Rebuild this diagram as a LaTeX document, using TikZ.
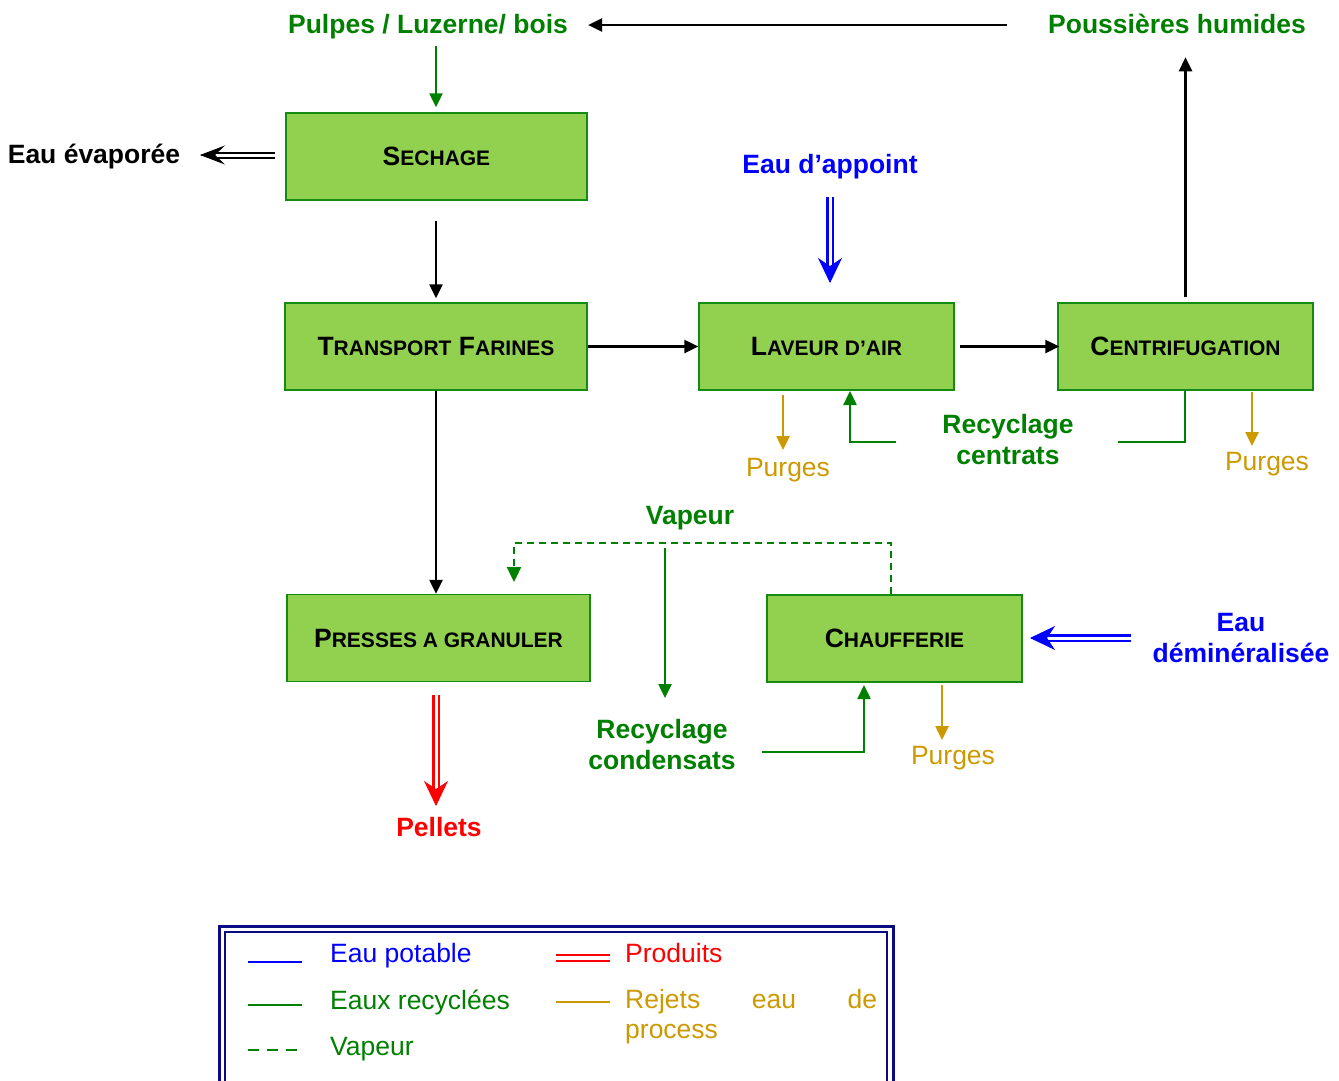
\documentclass[tikz,border=0pt]{standalone}
\usepackage{fontspec}
\setmainfont{Liberation Sans}
\usetikzlibrary{arrows.meta,calc}
\definecolor{gtxt}{RGB}{0,128,0}
\definecolor{boxfill}{RGB}{146,208,80}
\definecolor{boxdraw}{RGB}{20,140,20}
\definecolor{gold}{RGB}{204,153,0}
\definecolor{navy}{RGB}{10,10,130}
\newcommand\smc[1]{{\fontsize{21}{24}\selectfont #1}}
\begin{document}
\begin{tikzpicture}[x=1pt,y=-1pt,
  box/.style={draw=boxdraw, fill=boxfill, line width=1.5pt, minimum height=87pt, inner sep=0pt, font=\fontsize{26.5}{30}\selectfont\bfseries},
  lbl/.style={font=\fontsize{26.5}{31}\selectfont\bfseries, inner sep=0pt, align=center},
  reg/.style={font=\fontsize{26.5}{31}\selectfont, inner sep=0pt},
  arr/.style={line width=2.5pt, -{Triangle[length=14pt,width=13pt]}},
  dshaft/.style={double=white, double distance=3pt, line width=2.3pt},
  bighead/.style={line width=1pt, -{Stealth[length=25pt,width=24pt,inset=8pt]}},
  vap/.style={gtxt, line width=2.3pt, dash pattern=on 7pt off 5pt}
]
\useasboundingbox (0,0) rectangle (1339,1080);
\clip (0,0) rectangle (1339,1080);

% boxes
\node[box, minimum width=301pt] (sech) at (436.5,156.5) {S\smc{ECHAGE}};
\node[box, minimum width=302pt] (trans) at (436,346.5) {T\smc{RANSPORT} F\smc{ARINES}};
\node[box, minimum width=255pt] (lav) at (826.5,346.5) {L\smc{AVEUR D’AIR}};
\node[box, minimum width=255pt] (cen) at (1185.5,346.5) {C\smc{ENTRIFUGATION}};
\node[box, minimum width=303pt] (pres) at (438.5,638) {P\smc{RESSES A GRANULER}};
\node[box, minimum width=255pt] (chauf) at (894.5,638.5) {C\smc{HAUFFERIE}};

% labels
\node[lbl, gtxt] (pulpes) at (428,27) {Pulpes / Luzerne/ bois};
\node[lbl, gtxt] (pouss) at (1177,24) {Poussières humides};
\node[lbl] (evap) at (94,157) {Eau évaporée};
\node[lbl, blue] (appoint) at (830,167) {Eau d’appoint};
\node[lbl, gtxt] (centrats) at (1008,440) {Recyclage\\centrats};
\node[lbl, gtxt] (vapeur) at (690,518) {Vapeur};
\node[lbl, gtxt] (conds) at (662,745) {Recyclage\\condensats};
\node[lbl, blue] (demin) at (1241,638) {Eau\\déminéralisée};
\node[lbl, red] (pellets) at (439,827) {Pellets};
\node[reg, gold] (pur1) at (788,470) {Purges};
\node[reg, gold] (pur2) at (1267,464) {Purges};
\node[reg, gold] (pur3) at (953,758) {Purges};

% black flow
\draw[arr] ($(pouss.west)+(-41,1)$) -- ($(pulpes.east)+(20,-2)$);
\draw[arr, gtxt] ($(sech.north)+(-0.5,-66)$) -- ($(sech.north)+(-0.5,-5)$);
\draw[arr] ($(sech.south)+(-0.5,20)$) -- ($(trans.north)+(0,-4)$);
\draw[arr] (trans.east) -- (lav.west);
\draw[arr] ($(lav.east)+(5,0)$) -- ($(cen.west)+(2,0)$);
\draw[arr] ($(cen.north)+(0,-5)$) -- ($(cen.north)+(0,-245)$);
\draw[arr] (trans.south) -- (trans.south |- pres.north);

% Eau evaporee double arrow
\coordinate (evA) at (275,155);
\coordinate (evB) at (200,155);
\draw[dshaft, line width=2pt, shorten >=14pt] (evA) -- (evB);
\draw[line width=1pt, -{Stealth[length=25pt,width=19pt,inset=10pt]}] ($(evB)!1pt!(evA)$) -- (evB);

% Eau d'appoint
\coordinate (apA) at (830,197);
\coordinate (apB) at (830,283);
\draw[blue, dshaft, shorten >=14pt] (apA) -- (apB);
\draw[blue, bighead] ($(apB)!1pt!(apA)$) -- (apB);

% Eau demineralisee
\coordinate (deA) at (1131,638);
\coordinate (deB) at (1030,638);
\draw[blue, dshaft, shorten >=14pt] (deA) -- (deB);
\draw[blue, bighead] ($(deB)!1pt!(deA)$) -- (deB);

% Pellets
\coordinate (peA) at (436,695);
\coordinate (peB) at (436,806);
\draw[red, dshaft, shorten >=14pt] (peA) -- (peB);
\draw[red, bighead] ($(peB)!1pt!(peA)$) -- (peB);

% purges
\draw[arr, gold] (783,395) -- (783,450);
\draw[arr, gold] (1252,392) -- (1252,446);
\draw[arr, gold] (942,685) -- (942,740);

% recyclage centrats
\draw[arr, gtxt] (896,442) -- (850,442) -- (850,391);
\draw[gtxt, line width=2.5pt] (1118,442) -- (1185,442) -- (cen.south -| 1185,0);

% vapeur
\draw[vap, -{Triangle[length=15pt,width=14pt]}] (chauf.north -| 891,0) -- (891,543) -- (514,543) -- (514,582);
\draw[arr, gtxt] (665,548) -- (665,698);

% condensats
\draw[arr, gtxt] (762,752) -- (864,752) -- (864,685);

% legend
\draw[navy, line width=3pt] (219,926) rectangle (893,1110);
\draw[navy, line width=2pt] (225,932) rectangle (887,1110);
\draw[blue, line width=2.5pt] (248,962) -- (302,962);
\node[reg, blue, anchor=west] (lg1) at (330,956) {Eau potable};
\draw[gtxt, line width=2.5pt] (248,1005) -- (302,1005);
\node[reg, gtxt, anchor=west] (lg2) at (330,1002) {Eaux recyclées};
\draw[gtxt, line width=2.5pt, dash pattern=on 11pt off 8pt] (248,1050) -- (300,1050);
\node[reg, gtxt, anchor=west] (lg3) at (330,1049) {Vapeur};
\draw[red, line width=2.5pt] (556,955) -- (610,955);
\draw[red, line width=2.5pt] (556,961) -- (610,961);
\node[reg, red, anchor=west] (lg4) at (625,953) {Produits};
\draw[gold, line width=2.5pt] (556,1002) -- (610,1002);
\node[reg, gold, anchor=west] (lg5) at (625,1002) {\makebox[252pt][s]{Rejets\hfill eau\hfill de}};
\node[reg, gold, anchor=west] (lg6) at (625,1034) {process};
\end{tikzpicture}
\end{document}
